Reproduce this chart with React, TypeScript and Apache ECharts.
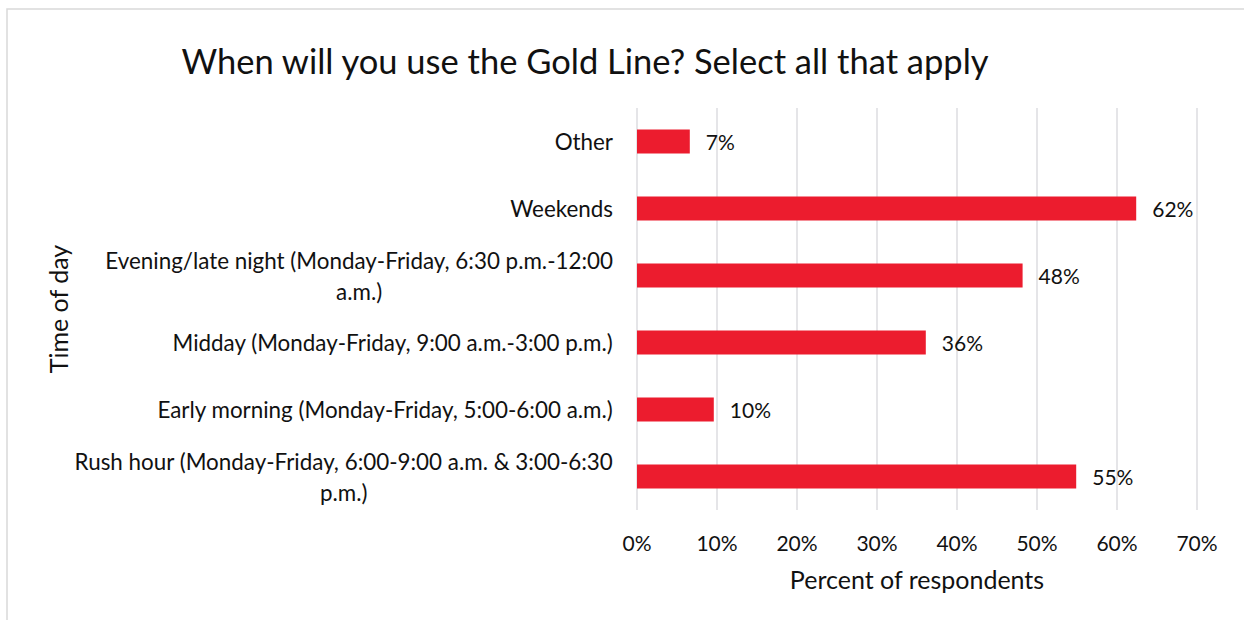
import React, { useEffect, useRef } from "react";
import * as echarts from "echarts";

const titleText = "When will you use the Gold Line? Select all that apply";
const categories = [
  "Rush hour (Monday-Friday, 6:00-9:00 a.m. & 3:00-6:30 p.m.)",
  "Early morning (Monday-Friday, 5:00-6:00 a.m.)",
  "Midday (Monday-Friday, 9:00 a.m.-3:00 p.m.)",
  "Evening/late night (Monday-Friday, 6:30 p.m.-12:00 a.m.)",
  "Weekends",
  "Other",
];
const values = [54.9, 9.6, 36.1, 48.2, 62.4, 6.6];
const xTicks = { min: 0, max: 70, interval: 10 };
const xAxisTitle = "Percent of respondents";
const yAxisTitle = "Time of day";

const FONT = "Lato";
const TEXT = "#111";
const WRAP_CHARS = 53;

function wrap(s: string): string[] {
  const lines: string[] = [];
  let rest = s;
  while (rest.length > WRAP_CHARS) {
    let cut = rest.lastIndexOf(" ", WRAP_CHARS);
    if (cut <= 0) cut = WRAP_CHARS;
    lines.push(rest.slice(0, cut));
    rest = rest.slice(cut + 1);
  }
  lines.push(rest);
  return lines;
}

export default function App() {
  const ref = useRef<HTMLDivElement>(null);
  useEffect(() => {
    if (!ref.current) return;
    const chart = echarts.init(ref.current, null, { renderer: "svg" });
    chart.setOption({
      animation: false,
      backgroundColor: "#fff",
      textStyle: { fontFamily: FONT, color: TEXT },
      title: {
        text: titleText,
        left: 580,
        top: 38,
        textAlign: "center",
        textStyle: { fontFamily: FONT, fontSize: 34.5, fontWeight: "normal", color: TEXT },
      },
      graphic: [
        {
          type: "rect",
          shape: { x: 7, y: 9, width: 1400, height: 800 },
          style: { fill: "none", stroke: "#d9d9d9", lineWidth: 1.5 },
          silent: true,
        },
      ],
      grid: { left: 637, top: 108, width: 560, height: 402 },
      xAxis: {
        type: "value",
        min: xTicks.min,
        max: xTicks.max,
        interval: xTicks.interval,
        axisLine: { show: false },
        axisTick: { show: false },
        splitLine: { show: true, lineStyle: { color: "#dcdce0", width: 1.5 } },
        axisLabel: {
          formatter: "{value}%",
          fontFamily: FONT,
          fontSize: 21,
          color: TEXT,
          margin: 22,
        },
        name: xAxisTitle,
        nameLocation: "middle",
        nameGap: 56,
        nameTextStyle: { fontFamily: FONT, fontSize: 25, color: TEXT },
      },
      yAxis: {
        type: "category",
        data: categories,
        axisLine: { show: false },
        axisTick: { show: false },
        axisLabel: {
          formatter: (v: string) => wrap(v).map((l) => "{c|" + l + "}").join("\n"),
          fontFamily: FONT,
          fontSize: 22.4,
          color: TEXT,
          margin: 24,
          align: "right",
          rich: {
            c: { align: "center", fontFamily: FONT, fontSize: 22.4, color: TEXT, lineHeight: 31 },
          },
        },
        name: yAxisTitle,
        nameLocation: "middle",
        nameRotate: 90,
        nameGap: 567,
        nameTextStyle: { fontFamily: FONT, fontSize: 25, color: TEXT },
      },
      series: [
        {
          type: "bar",
          data: values,
          barWidth: 24,
          itemStyle: { color: "#EC1C2E" },
          label: {
            show: true,
            position: "right",
            distance: 16,
            formatter: (p: any) => Math.round(p.value) + "%",
            fontFamily: FONT,
            fontSize: 21,
            color: TEXT,
          },
        },
      ],
    });
    return () => chart.dispose();
  }, []);
  return (
    <div
      ref={ref}
      style={{ position: "fixed", left: 0, top: 0, width: 1244, height: 620 }}
    />
  );
}
